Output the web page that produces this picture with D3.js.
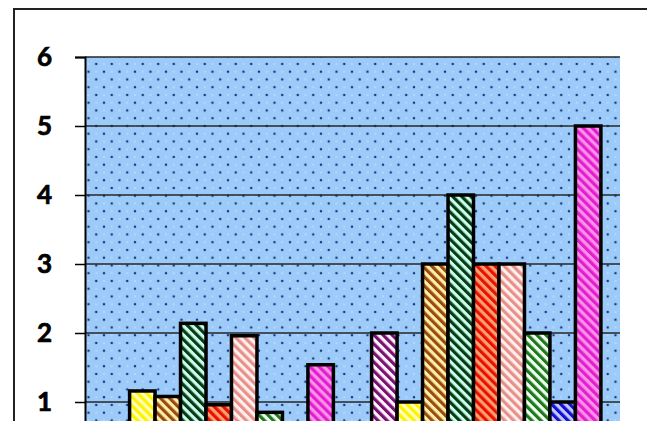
<!DOCTYPE html>
<html>
<head>
<meta charset="utf-8">
<script src="https://cdn.jsdelivr.net/npm/d3@7"></script>
<style>
  html, body { margin: 0; padding: 0; background: #fff; }
  svg { display: block; }
</style>
</head>
<body>
<svg id="chart" width="647" height="421"></svg>
<script>
// Two groups of nine hatched columns
const categories = ["Group 1", "Group 2"];
const series = ["S1", "S2", "S3", "S4", "S5", "S6", "S7", "S8", "S9"];
const valuesGroup1 = [0, 1.16, 1.08, 2.14, 0.96, 1.96, 0.85, 0, 1.54];
const valuesGroup2 = [2, 1, 3, 4, 3, 3, 2, 1, 5];
const yTicks = [1, 2, 3, 4, 5, 6];

// Stripe colours (foreground stripe, background) for each series
const stripeColors = ["#7a1070", "#fff200", "#9a4a10", "#0a3a10", "#e81000", "#e89088", "#1a7a1a", "#1010d0", "#e020d0"];
const fillColors   = ["#fff5ff", "#ffffc0", "#fff0a8", "#c8fff0", "#ffa070", "#fff0f0", "#f5fff5", "#c8c8ff", "#ff90e8"];

const svg = d3.select("#chart");
const defs = svg.append("defs");

const plot = { left: 85, right: 620, top: 57 };
const y = d3.scaleLinear().domain([0, 6]).range([471, plot.top]);

const x0 = d3.scaleBand()
  .domain(categories)
  .range([plot.left, plot.right])
  .paddingInner(1 / 7)
  .paddingOuter(1 / 14);
const x1 = d3.scaleBand().domain(series).range([0, x0.bandwidth()]);

// Dotted plot-area background
const dots = defs.append("pattern")
  .attr("id", "dots")
  .attr("patternUnits", "userSpaceOnUse")
  .attr("x", 104).attr("y", 71.7)
  .attr("width", 15.5).attr("height", 15.5);
dots.append("rect").attr("width", 15.5).attr("height", 15.5).attr("fill", "#9ccbfa");
[[0, 0], [7.75, 7.75], [15.5, 0], [0, 15.5], [15.5, 15.5]].forEach(([cx, cy]) =>
  dots.append("circle").attr("cx", cx).attr("cy", cy).attr("r", 1.25).attr("fill", "#1a3480"));
[[7.75, 0], [0, 7.75], [15.5, 7.75], [7.75, 15.5]].forEach(([cx, cy]) =>
  dots.append("circle").attr("cx", cx).attr("cy", cy).attr("r", 1).attr("fill", "#cfe6ff").attr("opacity", 0.6));

// Diagonal hatch patterns
series.forEach((s, i) => {
  const p = defs.append("pattern")
    .attr("id", "hatch" + i)
    .attr("patternUnits", "userSpaceOnUse")
    .attr("width", 6.4).attr("height", 6.4)
    .attr("patternTransform", "rotate(-45)");
  p.append("rect").attr("width", 6.4).attr("height", 6.4).attr("fill", fillColors[i]);
  p.append("rect").attr("width", 3.2).attr("height", 6.4).attr("fill", stripeColors[i]);
});

// Outer chart frame
svg.append("rect")
  .attr("x", 14).attr("y", 9)
  .attr("width", 660).attr("height", 500)
  .attr("fill", "#fff")
  .attr("stroke", "#222").attr("stroke-width", 2);

// Plot area
svg.append("rect")
  .attr("x", plot.left).attr("y", plot.top)
  .attr("width", plot.right - plot.left).attr("height", y(0) - plot.top)
  .attr("fill", "url(#dots)");

// Gridlines
svg.append("g")
  .selectAll("line")
  .data(yTicks)
  .join("line")
  .attr("x1", plot.left).attr("x2", plot.right)
  .attr("y1", d => y(d)).attr("y2", d => y(d))
  .attr("stroke", "#262626").attr("stroke-width", 1.5);

// Y axis
const yAxis = svg.append("g")
  .attr("transform", `translate(${plot.left},0)`)
  .call(d3.axisLeft(y).tickValues(yTicks).tickFormat(d3.format("d")).tickSize(10).tickPadding(23));
yAxis.select(".domain").attr("stroke", "#000").attr("stroke-width", 2);
yAxis.selectAll(".tick line").attr("stroke", "#000").attr("stroke-width", 1.5);
yAxis.selectAll(".tick text")
  .attr("fill", "#000")
  .attr("stroke", "#000")
  .attr("stroke-width", 0.7)
  .style("font-family", "Lato, 'Open Sans', sans-serif")
  .style("font-weight", "bold")
  .style("font-size", "26px");

// Columns
const rows = [valuesGroup1, valuesGroup2];
const groups = svg.append("g")
  .selectAll("g")
  .data(categories)
  .join("g")
  .attr("transform", d => `translate(${x0(d)},0)`);

groups.selectAll("rect")
  .data((c, ci) => series.map((s, si) => ({ s, si, v: rows[ci][si] })).filter(d => d.v > 0))
  .join("rect")
  .attr("x", d => x1(d.s))
  .attr("y", d => y(d.v))
  .attr("width", x1.bandwidth())
  .attr("height", d => y(0) - y(d.v))
  .attr("fill", d => `url(#hatch${d.si})`)
  .attr("stroke", "#000")
  .attr("stroke-width", 3.5);
</script>
</body>
</html>
